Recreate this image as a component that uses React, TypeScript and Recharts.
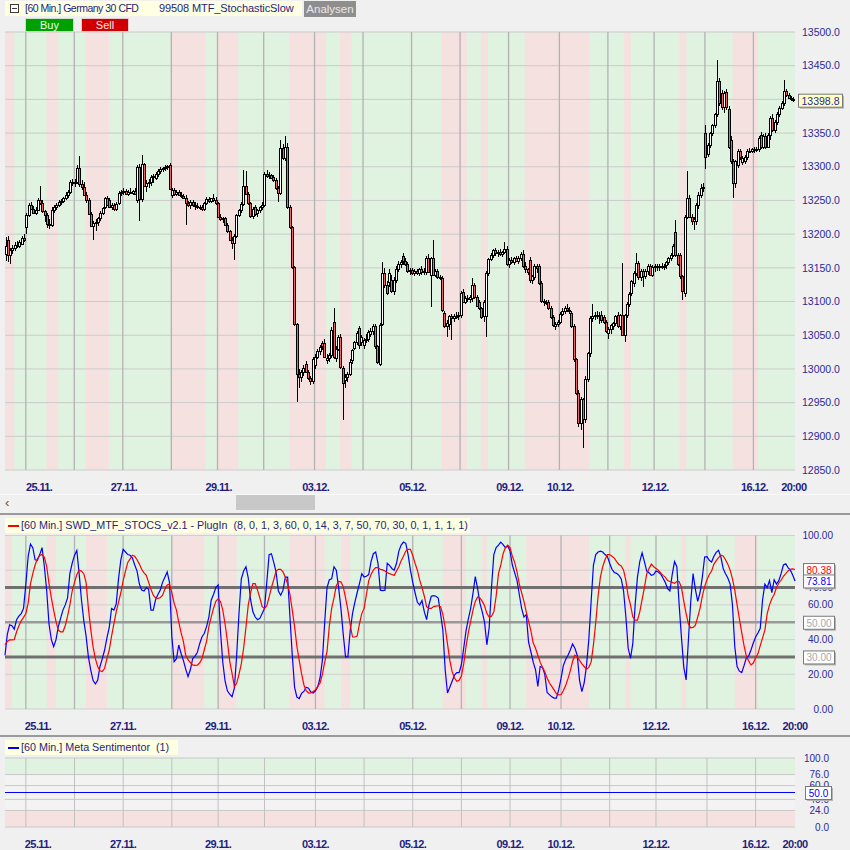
import React from "react";
import {
  ComposedChart,
  Bar,
  Line,
  XAxis,
  YAxis,
  ReferenceArea,
  ReferenceLine,
} from "recharts";

// open, high, low, close — one array per trading day (60 min candles)
type Candle = [number, number, number, number];

const d2411: Candle[] = [
  [13170, 13196, 13160, 13182], [13191, 13197, 13158, 13169], [13169, 13180, 13155, 13176],
  [13176, 13184, 13170, 13180], [13180, 13188, 13175, 13184], [13184, 13190, 13180, 13183],
  [13183, 13192, 13180, 13189], [13186, 13197, 13184, 13195], [13195, 13200, 13188, 13192],
];
const d2511: Candle[] = [
  [13210, 13231, 13200, 13229], [13229, 13246, 13226, 13243], [13243, 13248, 13236, 13238],
  [13238, 13242, 13230, 13232], [13232, 13240, 13228, 13236], [13236, 13253, 13234, 13251],
  [13251, 13272, 13244, 13246], [13246, 13250, 13232, 13234], [13234, 13236, 13218, 13229],
  [13229, 13232, 13209, 13215], [13215, 13222, 13208, 13213], [13213, 13240, 13210, 13236],
  [13236, 13244, 13232, 13240], [13240, 13246, 13236, 13243], [13243, 13250, 13240, 13247],
  [13247, 13252, 13243, 13249], [13249, 13255, 13246, 13253], [13253, 13262, 13250, 13258],
  [13258, 13266, 13254, 13263], [13263, 13280, 13260, 13278], [13278, 13282, 13272, 13276],
];
const d2611: Candle[] = [
  [13276, 13282, 13270, 13278], [13278, 13302, 13274, 13298], [13298, 13316, 13270, 13274],
  [13274, 13280, 13266, 13270], [13270, 13278, 13256, 13258], [13258, 13262, 13246, 13250],
  [13250, 13253, 13228, 13230], [13230, 13233, 13210, 13212], [13212, 13220, 13192, 13216],
  [13216, 13222, 13205, 13218], [13218, 13226, 13212, 13224], [13224, 13234, 13220, 13232],
  [13232, 13240, 13228, 13239], [13241, 13255, 13238, 13253], [13253, 13256, 13242, 13244],
  [13250, 13254, 13239, 13241], [13241, 13246, 13236, 13243], [13243, 13246, 13234, 13238],
  [13238, 13247, 13235, 13245], [13246, 13264, 13244, 13261], [13261, 13266, 13257, 13262],
];
const d2711: Candle[] = [
  [13262, 13268, 13258, 13264], [13264, 13267, 13258, 13260], [13260, 13266, 13257, 13263],
  [13263, 13268, 13259, 13261], [13261, 13266, 13258, 13264], [13264, 13268, 13258, 13260],
  [13250, 13302, 13246, 13300], [13300, 13304, 13219, 13252], [13252, 13318, 13248, 13304],
  [13304, 13306, 13270, 13272], [13272, 13280, 13262, 13276], [13276, 13282, 13268, 13278],
  [13278, 13288, 13272, 13285], [13285, 13290, 13276, 13287], [13283, 13292, 13280, 13289],
  [13289, 13296, 13285, 13294], [13294, 13300, 13290, 13297], [13297, 13300, 13292, 13298],
  [13298, 13302, 13294, 13299], [13299, 13303, 13295, 13301], [13302, 13306, 13265, 13267],
];
const d2811: Candle[] = [
  [13258, 13269, 13254, 13266], [13266, 13268, 13257, 13260], [13260, 13265, 13256, 13263],
  [13263, 13266, 13256, 13258], [13258, 13262, 13253, 13256], [13256, 13260, 13252, 13254],
  [13254, 13258, 13214, 13246], [13246, 13249, 13240, 13244], [13244, 13250, 13238, 13248],
  [13248, 13250, 13240, 13243], [13243, 13248, 13236, 13242], [13242, 13246, 13237, 13240],
  [13240, 13244, 13236, 13241], [13241, 13244, 13234, 13237], [13237, 13248, 13234, 13246],
  [13246, 13255, 13244, 13252], [13252, 13255, 13246, 13249], [13249, 13254, 13246, 13253],
  [13253, 13259, 13248, 13250], [13250, 13255, 13244, 13246],
];
const d2911: Candle[] = [
  [13246, 13248, 13224, 13226], [13226, 13230, 13219, 13222], [13222, 13226, 13216, 13224],
  [13224, 13226, 13212, 13214], [13214, 13216, 13202, 13204], [13204, 13206, 13190, 13192],
  [13192, 13196, 13178, 13187], [13187, 13200, 13162, 13197], [13197, 13230, 13194, 13228],
  [13228, 13238, 13226, 13236], [13236, 13247, 13232, 13245], [13245, 13295, 13242, 13271],
  [13271, 13293, 13258, 13260], [13260, 13262, 13244, 13246], [13246, 13248, 13224, 13227],
  [13227, 13240, 13222, 13237], [13240, 13243, 13227, 13230], [13232, 13238, 13226, 13236],
  [13236, 13242, 13232, 13240], [13240, 13247, 13236, 13243],
];
const d0212: Candle[] = [
  [13243, 13292, 13240, 13289], [13289, 13295, 13284, 13287], [13287, 13292, 13282, 13288],
  [13288, 13290, 13282, 13284], [13285, 13288, 13278, 13281], [13281, 13283, 13266, 13269],
  [13269, 13272, 13248, 13261], [13261, 13340, 13258, 13328], [13328, 13334, 13310, 13313],
  [13313, 13345, 13308, 13330], [13330, 13336, 13238, 13241], [13241, 13244, 13207, 13210],
  [13210, 13212, 13148, 13151], [13151, 13153, 13064, 13066], [13066, 13068, 12951, 12992],
  [12992, 13000, 12972, 12988], [12988, 12998, 12980, 12995], [12995, 13006, 12990, 13002],
  [13008, 13012, 12994, 12996], [12996, 12999, 12984, 12986], [12986, 12990, 12976, 12982],
  [12982, 13018, 12978, 13015],
];
const d0312: Candle[] = [
  [13006, 13022, 13000, 13018], [13018, 13030, 13014, 13027], [13027, 13036, 13020, 13033],
  [13038, 13042, 13028, 13034], [13038, 13044, 13016, 13018], [13013, 13022, 13008, 13016],
  [13016, 13024, 13010, 13020], [13020, 13062, 13016, 13058], [13070, 13090, 13015, 13018],
  [13016, 13034, 13010, 13030], [13030, 13050, 13026, 13048], [13048, 13052, 13000, 13003],
  [13001, 13004, 12924, 12979], [12983, 12992, 12972, 12988], [12988, 12996, 12980, 12993],
  [12993, 13014, 12990, 13011], [13013, 13030, 13008, 13028], [13031, 13042, 13028, 13040],
  [13040, 13056, 13036, 13053], [13060, 13064, 13030, 13035], [13040, 13050, 13034, 13048],
];
const d0412: Candle[] = [
  [13036, 13046, 13030, 13043], [13043, 13052, 13038, 13045], [13045, 13058, 13040, 13055],
  [13052, 13060, 13048, 13056], [13056, 13066, 13050, 13063], [13063, 13066, 13030, 13034],
  [13034, 13036, 13008, 13010], [13008, 13068, 13004, 13065], [13067, 13158, 13064, 13143],
  [13143, 13150, 13120, 13125], [13125, 13130, 13110, 13112], [13129, 13148, 13122, 13143],
  [13132, 13140, 13112, 13115], [13115, 13136, 13110, 13132], [13132, 13152, 13128, 13149],
  [13149, 13160, 13144, 13155], [13155, 13162, 13150, 13158], [13168, 13172, 13154, 13160],
  [13160, 13164, 13153, 13155], [13155, 13158, 13143, 13145], [13145, 13150, 13140, 13147],
];
const d0512: Candle[] = [
  [13147, 13150, 13140, 13143], [13143, 13148, 13138, 13145], [13145, 13149, 13140, 13142],
  [13142, 13150, 13138, 13148], [13148, 13152, 13140, 13144], [13144, 13150, 13139, 13146],
  [13144, 13168, 13140, 13164], [13164, 13170, 13142, 13144], [13140, 13166, 13092, 13164],
  [13164, 13192, 13138, 13140], [13140, 13148, 13136, 13145], [13145, 13148, 13134, 13137],
  [13137, 13140, 13132, 13135], [13135, 13138, 13085, 13087], [13083, 13086, 13060, 13063],
  [13063, 13072, 13048, 13068], [13066, 13080, 13058, 13078], [13078, 13082, 13043, 13075],
  [13075, 13082, 13070, 13079], [13079, 13084, 13074, 13078], [13078, 13084, 13072, 13080],
];
const d0612: Candle[] = [
  [13080, 13115, 13076, 13112], [13114, 13118, 13098, 13100], [13100, 13108, 13096, 13105],
  [13105, 13110, 13100, 13104], [13104, 13110, 13098, 13106], [13105, 13135, 13100, 13124],
  [13124, 13128, 13104, 13106], [13106, 13110, 13092, 13094], [13099, 13102, 13088, 13090],
  [13090, 13092, 13074, 13077], [13078, 13102, 13070, 13099], [13078, 13146, 13048, 13142],
  [13142, 13165, 13138, 13163], [13163, 13172, 13160, 13169], [13169, 13178, 13165, 13176],
  [13176, 13180, 13168, 13172], [13172, 13176, 13166, 13174], [13174, 13178, 13168, 13170],
  [13170, 13175, 13166, 13173], [13174, 13189, 13170, 13178], [13178, 13182, 13152, 13155],
];
const d0912: Candle[] = [
  [13155, 13164, 13150, 13162], [13162, 13166, 13156, 13158], [13158, 13166, 13154, 13164],
  [13164, 13168, 13158, 13160], [13160, 13168, 13156, 13164], [13164, 13174, 13160, 13171],
  [13171, 13176, 13150, 13153], [13153, 13158, 13142, 13148], [13148, 13150, 13140, 13144],
  [13162, 13166, 13128, 13132], [13132, 13140, 13126, 13138], [13137, 13155, 13132, 13152],
  [13152, 13156, 13142, 13150], [13153, 13156, 13125, 13127], [13127, 13130, 13098, 13101],
  [13101, 13104, 13094, 13099], [13099, 13102, 13095, 13100], [13099, 13102, 13088, 13091],
  [13091, 13094, 13074, 13077], [13077, 13080, 13062, 13065], [13064, 13070, 13058, 13066],
  [13066, 13072, 13062, 13069],
];
const d1012: Candle[] = [
  [13069, 13084, 13066, 13081], [13081, 13090, 13078, 13086], [13086, 13094, 13082, 13091],
  [13091, 13096, 13084, 13088], [13088, 13092, 13082, 13086], [13083, 13086, 13060, 13063],
  [13063, 13066, 13010, 13014], [13014, 13016, 12962, 12965], [12965, 12968, 12914, 12920],
  [12920, 12958, 12910, 12955], [12955, 12957, 12883, 12925], [12925, 12990, 12920, 12985],
  [12985, 13025, 12980, 13023], [13023, 13078, 13018, 13075], [13075, 13096, 13070, 13078],
  [13078, 13084, 13072, 13080], [13080, 13086, 13074, 13078], [13078, 13084, 13066, 13080],
  [13080, 13086, 13068, 13072], [13077, 13080, 13066, 13070], [13070, 13072, 13054, 13056],
];
const d1112: Candle[] = [
  [13053, 13062, 13044, 13059], [13059, 13066, 13052, 13065], [13063, 13070, 13058, 13068],
  [13068, 13080, 13064, 13078], [13080, 13084, 13060, 13063], [13063, 13082, 13058, 13080],
  [13080, 13157, 13051, 13051], [13051, 13082, 13040, 13080], [13080, 13099, 13076, 13096],
  [13096, 13114, 13092, 13111], [13112, 13132, 13108, 13130], [13127, 13145, 13122, 13142],
  [13142, 13172, 13138, 13157], [13157, 13160, 13132, 13136], [13136, 13148, 13130, 13145],
  [13145, 13148, 13122, 13138], [13138, 13148, 13134, 13145], [13145, 13156, 13140, 13153],
  [13153, 13156, 13138, 13140], [13140, 13154, 13136, 13151],
];
const d1212: Candle[] = [
  [13151, 13156, 13144, 13152], [13152, 13156, 13146, 13151], [13151, 13155, 13146, 13153],
  [13153, 13157, 13148, 13152], [13152, 13156, 13147, 13151], [13154, 13160, 13148, 13158],
  [13158, 13166, 13154, 13164], [13164, 13172, 13160, 13169], [13169, 13186, 13166, 13183],
  [13203, 13221, 13166, 13169], [13169, 13172, 13152, 13155], [13169, 13172, 13134, 13138],
  [13138, 13140, 13102, 13115], [13112, 13228, 13106, 13226], [13226, 13293, 13222, 13254],
  [13254, 13258, 13224, 13226], [13226, 13230, 13214, 13219], [13219, 13226, 13206, 13222],
  [13220, 13246, 13214, 13243], [13243, 13262, 13238, 13258], [13258, 13274, 13254, 13268],
  [13268, 13276, 13262, 13270],
];
const d1312: Candle[] = [
  [13350, 13362, 13297, 13315], [13319, 13336, 13314, 13332], [13332, 13352, 13328, 13350],
  [13350, 13364, 13346, 13362], [13362, 13380, 13358, 13378], [13378, 13459, 13374, 13427],
  [13427, 13432, 13390, 13394], [13409, 13414, 13384, 13388], [13388, 13412, 13380, 13409],
  [13411, 13416, 13384, 13388], [13386, 13390, 13326, 13330], [13340, 13345, 13304, 13308],
  [13308, 13312, 13253, 13276], [13276, 13310, 13268, 13308], [13303, 13326, 13298, 13323],
  [13323, 13326, 13310, 13314], [13307, 13316, 13302, 13313], [13308, 13318, 13304, 13314],
  [13314, 13326, 13310, 13324], [13324, 13328, 13320, 13324], [13324, 13328, 13320, 13326],
];
const d1612: Candle[] = [
  [13326, 13330, 13320, 13325], [13325, 13330, 13322, 13327], [13327, 13345, 13322, 13343],
  [13347, 13352, 13326, 13330], [13330, 13348, 13326, 13345], [13345, 13350, 13326, 13330],
  [13330, 13350, 13328, 13347], [13347, 13376, 13340, 13373], [13373, 13378, 13352, 13355],
  [13355, 13370, 13350, 13367], [13367, 13382, 13362, 13378], [13378, 13390, 13374, 13387],
  [13387, 13398, 13384, 13394], [13394, 13429, 13390, 13412], [13413, 13416, 13404, 13406],
  [13407, 13410, 13400, 13402], [13402, 13405, 13397, 13400], [13400, 13404, 13396, 13398.8],
];

const dayLabels = [
  "24.11.", "25.11.", "26.11.", "27.11.", "28.11.", "29.11.", "02.12.", "03.12.", "04.12.",
  "05.12.", "06.12.", "09.12.", "10.12.", "11.12.", "12.12.", "13.12.", "16.12.",
];
const dayCandles = [
  d2411, d2511, d2611, d2711, d2811, d2911, d0212, d0312, d0412,
  d0512, d0612, d0912, d1012, d1112, d1212, d1312, d1612,
];
const shownDays = ["25.11.", "27.11.", "29.11.", "03.12.", "05.12.", "09.12.", "10.12.", "12.12.", "16.12."];
const lastTimeLabel = "20:00";

// stochastic slow, %K (blue) and %D (red), one value per candle
const stochK = [
  31, 43, 48.5, 48, 46, 51.5, 53.5, 55, 58, 72,
  88, 95, 93, 86, 85.7, 89, 93, 82, 68, 49,
  40, 36, 39.8, 47.4, 52.2, 57, 60, 64, 78, 84,
  88.5, 91.4, 78, 63, 51, 42, 30, 22.6, 16.5, 14.5,
  16.5, 24.5, 29, 34, 41, 47, 57.9, 57, 60.5, 75,
  86, 92, 90.5, 89, 88.6, 87, 83, 79.5, 72, 68.5,
  68, 70, 69, 57, 57, 63, 66, 68.5, 73, 76,
  79, 73, 42, 27.3, 29, 36.9, 32, 28, 23, 18.7,
  22.6, 29, 30.5, 32.5, 37.5, 41.5, 43.5, 47.5, 53, 62.7,
  66, 70, 71.5, 45, 27, 16, 10.5, 8.5, 7, 12,
  31, 55, 75, 79.5, 82, 75.5, 63, 56, 53, 51.5,
  52.2, 55, 57.9, 73, 89, 89.5, 84.5, 79, 68, 65.6,
  68.5, 76, 76, 53, 31, 12.5, 6.8, 6, 9, 10.1,
  12.5, 12, 9.8, 9.2, 10.5, 12.8, 18, 28, 50, 70,
  74.5, 75, 82, 80, 70, 58, 43, 30, 30, 45,
  55, 61.5, 67, 72.3, 78, 76.1, 76.5, 77.5, 85, 89.5,
  90.5, 84, 68.5, 68.2, 68.5, 84, 82.8, 81, 80, 84,
  91, 94.5, 96.2, 95.5, 89, 80, 73, 67, 61.5, 60,
  62.5, 56, 51.5, 60, 65, 65.3, 65, 64, 55, 45.5,
  22.6, 9.2, 12.5, 16, 19.5, 21, 21, 25.5, 35, 45,
  52, 58, 66.6, 76.3, 69.4, 61, 56, 50, 37, 47,
  70, 89, 93, 94.5, 96.2, 94.8, 93, 94, 91, 83,
  78.5, 74, 66, 58, 53, 54.5, 38.5, 33, 27, 22.6,
  13, 24.5, 24, 20, 9.5, 8.3, 7, 6.3, 6.3, 11,
  17.5, 25, 28.5, 31, 34, 37.5, 35, 31, 16.5, 10,
  15, 25, 40, 62, 83, 89, 90.5, 91, 90.5, 89,
  88, 84, 80.5, 78.7, 78.2, 77, 75, 68, 53, 35,
  29.2, 38, 60, 76, 85, 90, 85, 79.5, 78.5, 77,
  77.5, 79.5, 79, 77.8, 75.5, 73, 69.4, 68, 77.5, 85,
  82, 60, 41, 24, 16.8, 40, 62, 78, 69, 62,
  67, 76, 87.6, 87.8, 85.7, 84.7, 88, 90.3, 91.5, 87.6,
  81, 78, 75.5, 72, 60, 36, 24.5, 21.8, 21, 25,
  29.5, 30.5, 34, 38, 41.5, 43.8, 46.5, 63, 72, 70,
  74, 67, 74.5, 72, 74, 78, 83, 83.7, 81.5, 80,
  77.2, 73.81,
];
const stochD = [
  37, 39, 39.8, 39.8, 40, 44.5, 48, 50.8, 52.8, 55,
  61, 72.3, 78, 83, 86.6, 88.5, 89, 87.4, 82, 72.3,
  64, 57, 50.5, 45.5, 44.5, 44.5, 48, 53.5, 60, 68,
  73, 77.5, 80, 79.5, 78, 73, 58, 46, 36, 29,
  24.5, 22, 21.6, 23.5, 29, 34, 42, 49, 56, 61.5,
  67, 74, 79.5, 84.5, 86.5, 88.6, 88, 86, 83.5, 80.5,
  78.5, 77, 73, 69, 65.6, 64, 63.7, 64.2, 65.6, 69,
  71.5, 72, 67, 61, 57, 50, 44, 39, 31, 28.5,
  26.8, 25.4, 25.1, 25.3, 26.5, 29, 34, 39, 47.5, 53,
  58, 62, 63.5, 62, 57, 49, 39, 27.5, 20.5, 13,
  14.8, 20, 26, 35, 47, 60, 67, 72.3, 72.3, 68.5,
  64, 59, 58, 59.5, 64.5, 70, 74.5, 79.5, 80.5, 80.5,
  79, 76, 72, 66, 57, 47.5, 36, 28, 20.5, 14,
  10.5, 9.2, 9.3, 10.1, 11, 13, 15, 20, 27, 33,
  48, 58, 64, 71, 73.5, 73.3, 70.4, 64, 57, 48.5,
  41.5, 41.5, 42, 49, 55, 58, 66, 74, 77.5, 80,
  81.5, 81.5, 80.5, 80.2, 79.5, 78.5, 78, 77.5, 77, 79.5,
  82, 85.5, 88, 91, 92, 92, 88.5, 84, 80, 74.3,
  70, 65, 59, 58, 58, 59, 59.3, 59.5, 59, 54.5,
  47, 37.5, 28, 21.5, 18, 16, 16.5, 19, 26, 36,
  44, 50.5, 57, 62, 64.5, 64, 62, 59.5, 55, 53,
  53.5, 56, 65, 78, 83, 89.5, 93, 94.5, 93, 88,
  84.5, 79, 72, 67, 62, 56, 50.5, 45, 38, 35,
  31, 27, 24, 21.5, 17.8, 15, 13, 11, 8.8, 8.2,
  8.2, 10.5, 13.5, 17.5, 22, 27.5, 31, 30.2, 28, 26,
  24.5, 23, 24, 27, 37, 50, 65, 76, 82, 86,
  89, 89, 88, 87, 85, 83.3, 82.5, 80, 74, 65,
  60, 53, 51.2, 51.2, 56, 63, 70, 78, 81, 83.5,
  82, 81, 80, 78.4, 77, 76, 74, 73.5, 73, 72.5,
  73.5, 73.5, 70, 62, 55, 49, 46.8, 47, 48.3, 53,
  58, 65, 70.5, 74.5, 77.5, 79.5, 83.5, 85.5, 87.2, 88.6,
  88.2, 86, 83.5, 80, 75, 68.5, 60, 52, 44, 36.5,
  30.5, 27.7, 25.4, 26.5, 29.5, 31.8, 36.5, 41, 45.5, 55,
  60, 63.5, 66, 70, 72.5, 74.2, 76.5, 78, 79.6, 80.5,
  80.8, 80.38,
];

// sell signal zones (first and last candle); everything else is a buy zone
const sellZoneStart = [0, 18, 35, 72, 92, 123, 145, 189, 206, 225, 268, 292, 315];
const sellZoneEnd = [3, 22, 44, 86, 100, 138, 149, 199, 208, 252, 270, 294, 325];

const priceTicks = [
  12850, 12900, 12950, 13000, 13050, 13100, 13150, 13200, 13250, 13300, 13350, 13400, 13450, 13500,
];
const stochLabelTicks = [0, 20, 40, 60, 70, 100];
const stochGrid = [0, 20, 40, 60, 80, 100];
const stochUpper = 70;
const stochMiddle = 50;
const stochLower = 30;

const sentimentValue = 50;
const sentimentBuyZone = [76, 100];
const sentimentSellZone = [0, 24];
const sentimentTicks = [0, 24, 40, 60, 76, 100];

const candles = dayCandles.flat();
const rows = candles.map((c, i) => ({
  i,
  o: c[0],
  h: c[1],
  l: c[2],
  c: c[3],
  range: [c[2], c[1]],
  k: stochK[i],
  d: stochD[i],
  s: sentimentValue,
}));

const dayStarts: number[] = [];
{
  let acc = 0;
  dayCandles.forEach((d) => {
    dayStarts.push(acc);
    acc += d.length;
  });
}
const boundaries = dayStarts.slice(1);
const tickText: Record<number, string> = {};
dayLabels.forEach((lab, n) => {
  if (shownDays.includes(lab)) tickText[dayStarts[n]] = lab;
});
tickText[rows.length - 1] = lastTimeLabel;
const tickIdx = Object.keys(tickText).map(Number).sort((a, b) => a - b);

const FONT = "'Liberation Sans', Arial, sans-serif";
const BUY_BG = "#e0f2e0";
const SELL_BG = "#f6e1e1";
const AXIS_BLUE = "#2a2a98";
const TITLE_BLUE = "#1e1e80";

function CandleShape(props: any) {
  const { x, y, width, height, payload } = props;
  if (!payload || x == null || y == null) return null;
  const { o, h, l, c } = payload;
  const top = Math.min(y, y + height);
  const span = Math.abs(height);
  const toY = (p: number) => (h === l ? top : top + ((h - p) / (h - l)) * span);
  const col = Math.round(x + width / 2 - 0.5);
  const bTop = Math.round(toY(Math.max(o, c)));
  const bBot = Math.round(toY(Math.min(o, c)));
  return (
    <g>
      <line
        x1={col + 0.5}
        x2={col + 0.5}
        y1={Math.round(toY(h))}
        y2={Math.round(toY(l))}
        stroke="#000"
        strokeWidth={1}
      />
      <rect
        x={col - 0.5}
        y={bTop + 0.5}
        width={2}
        height={Math.max(1, bBot - bTop)}
        fill={c < o ? "#f06464" : "#ffffff"}
        stroke="#000"
        strokeWidth={1}
      />
    </g>
  );
}

function DateTick(props: any) {
  const { x, y, payload } = props;
  const v = payload.value;
  const first = v === tickIdx[0];
  return (
    <text
      x={first ? x - 1 : x}
      y={y}
      dy={21}
      textAnchor={first ? "start" : "middle"}
      fontFamily={FONT}
      fontWeight="bold"
      fontSize={11}
      letterSpacing={-0.6}
      fill={TITLE_BLUE}
    >
      {tickText[v]}
    </text>
  );
}

function PriceTick(props: any) {
  const { x, y, payload } = props;
  return (
    <text x={x + 7} y={y} dy="0.35em" textAnchor="start" fontFamily={FONT} fontSize={10.5} fill={AXIS_BLUE}>
      {Number(payload.value).toFixed(1)}
    </text>
  );
}

function makeRightTick(dx: number, digits: number, size: number) {
  return function RightTick(props: any) {
    const { x, y, payload } = props;
    return (
      <text x={x + dx} y={y} dy="0.35em" textAnchor="end" fontFamily={FONT} fontSize={size} fill={AXIS_BLUE}>
        {Number(payload.value).toFixed(digits)}
      </text>
    );
  };
}
const StochTick = makeRightTick(38, 2, 10);
const SentTick = makeRightTick(34, 1, 10);

function ValueBox(props: any) {
  const { viewBox, text, color, bg, w, dx, size } = props;
  if (!viewBox) return null;
  const x = viewBox.x + viewBox.width + dx;
  const y = viewBox.y;
  const hgt = 13;
  return (
    <g>
      <rect x={x + 2} y={y - hgt / 2 + 2} width={w} height={hgt} fill="#b4b4b4" />
      <rect x={x + 0.5} y={y - hgt / 2 + 0.5} width={w} height={hgt} fill={bg} stroke="#7a7a7a" />
      <text x={x + w / 2 + 0.5} y={y + 1} dy="0.35em" textAnchor="middle" fontFamily={FONT} fontSize={size} fill={color}>
        {text}
      </text>
    </g>
  );
}

function PanelHeader({ top, width, text, dash }: { top: number; width: number; text: string; dash: string }) {
  return (
    <div style={{ position: "absolute", left: 5, top, width, height: 15, background: "#ffffe1" }}>
      <div style={{ position: "absolute", left: 3, top: 7, width: 11, height: 2, background: dash }} />
      <div
        style={{
          position: "absolute",
          left: 16,
          top: 1,
          fontFamily: FONT,
          fontSize: 10.75,
          color: TITLE_BLUE,
          whiteSpace: "pre",
        }}
      >
        {text}
      </div>
    </div>
  );
}

export default function App() {
  const last = rows[rows.length - 1];
  const xAxisCommon = {
    dataKey: "i",
    type: "category" as const,
    ticks: tickIdx,
    interval: 0 as const,
    tick: <DateTick />,
    tickLine: false,
    axisLine: false,
    tickSize: 0,
    tickMargin: 0,
    height: 20,
  };

  return (
    <div style={{ position: "fixed", left: 0, top: 0, width: 850, height: 850, background: "#f0f0f0", overflow: "hidden" }}>
      {/* price chart */}
      <div style={{ position: "absolute", left: 0, top: 0 }}>
        <ComposedChart
          width={850}
          height={500}
          data={rows}
          margin={{ top: 32, right: 0, bottom: 10, left: 5 }}
          barCategoryGap={0}
          barGap={0}
        >
          <XAxis {...xAxisCommon} />
          <YAxis
            orientation="right"
            domain={[12850, 13500]}
            ticks={priceTicks}
            type="number"
            width={55}
            tick={<PriceTick />}
            tickLine={false}
            axisLine={false}
            tickSize={0}
            tickMargin={0}
            interval={0}
            allowDataOverflow
          />
          <ReferenceArea y1={12850} y2={13500} fill={BUY_BG} fillOpacity={1} stroke="none" zIndex={-95} />
          {sellZoneStart.map((s, n) => (
            <ReferenceArea key={`s${n}`} x1={s} x2={sellZoneEnd[n]} fill={SELL_BG} fillOpacity={1} stroke="none" zIndex={-90} />
          ))}
          {priceTicks.map((v) => (
            <ReferenceLine key={`h${v}`} y={v} stroke="#cbcbcb" strokeWidth={1} zIndex={-80} />
          ))}
          {boundaries.map((b) => (
            <ReferenceLine key={`v${b}`} x={b} position="start" stroke="#b2b2b2" strokeWidth={1.3} zIndex={-70} />
          ))}
          <Bar dataKey="range" shape={<CandleShape />} isAnimationActive={false} />
          <ReferenceLine
            y={last.c}
            stroke="none"
            zIndex={2000}
            label={<ValueBox text={last.c.toFixed(1)} color={AXIS_BLUE} bg="#ffffc4" w={44} dx={3} size={10.5} />}
          />
        </ComposedChart>
      </div>

      {/* stochastic panel */}
      <div style={{ position: "absolute", left: 0, top: 500 }}>
        <ComposedChart
          width={850}
          height={240}
          data={rows}
          margin={{ top: 35.5, right: 0, bottom: 11, left: 5 }}
        >
          <XAxis {...xAxisCommon} />
          <YAxis
            orientation="right"
            domain={[0, 100]}
            ticks={stochLabelTicks}
            type="number"
            width={55}
            tick={<StochTick />}
            tickLine={false}
            axisLine={false}
            tickSize={0}
            tickMargin={0}
            interval={0}
          />
          <ReferenceArea y1={0} y2={100} fill={BUY_BG} fillOpacity={1} stroke="none" zIndex={-95} />
          {sellZoneStart.map((s, n) => (
            <ReferenceArea key={`s${n}`} x1={s} x2={sellZoneEnd[n]} fill={SELL_BG} fillOpacity={1} stroke="none" zIndex={-90} />
          ))}
          {stochGrid.map((v) => (
            <ReferenceLine key={`h${v}`} y={v} stroke="#d0d0d0" strokeWidth={1} zIndex={-80} />
          ))}
          {boundaries.map((b) => (
            <ReferenceLine key={`v${b}`} x={b} position="start" stroke="#b2b2b2" strokeWidth={1.3} zIndex={-70} />
          ))}
          <ReferenceLine y={stochUpper} stroke="#707070" strokeWidth={3} zIndex={-60} />
          <ReferenceLine
            y={stochMiddle}
            stroke="#999999"
            strokeWidth={2.5}
            zIndex={-60}
            label={<ValueBox text={stochMiddle.toFixed(2)} color="#a8a8a8" bg="#ffffff" w={31} dx={8} size={10} />}
          />
          <ReferenceLine
            y={stochLower}
            stroke="#707070"
            strokeWidth={3}
            zIndex={-60}
            label={<ValueBox text={stochLower.toFixed(2)} color="#a8a8a8" bg="#ffffff" w={31} dx={8} size={10} />}
          />
          <Line dataKey="k" type="linear" stroke="#0000ff" strokeWidth={1.2} dot={false} isAnimationActive={false} />
          <Line dataKey="d" type="linear" stroke="#ff0000" strokeWidth={1.2} dot={false} isAnimationActive={false} />
          <ReferenceLine
            y={last.d}
            stroke="none"
            zIndex={2000}
            label={<ValueBox text={last.d.toFixed(2)} color="#ff0000" bg="#ffffff" w={31} dx={8} size={10} />}
          />
          <ReferenceLine
            y={last.k}
            stroke="none"
            zIndex={2000}
            label={<ValueBox text={last.k.toFixed(2)} color="#0000ff" bg="#ffffff" w={31} dx={8} size={10} />}
          />
        </ComposedChart>
      </div>

      {/* meta sentimentor panel */}
      <div style={{ position: "absolute", left: 0, top: 735 }}>
        <ComposedChart
          width={850}
          height={115}
          data={rows}
          margin={{ top: 23, right: 0, bottom: 3, left: 5 }}
        >
          <XAxis {...xAxisCommon} />
          <YAxis
            orientation="right"
            domain={[0, 100]}
            ticks={sentimentTicks}
            type="number"
            width={55}
            tick={<SentTick />}
            tickLine={false}
            axisLine={false}
            tickSize={0}
            tickMargin={0}
            interval={0}
          />
          <ReferenceArea y1={0} y2={100} fill="#f3f3f3" fillOpacity={1} stroke="none" zIndex={-95} />
          <ReferenceArea y1={sentimentBuyZone[0]} y2={sentimentBuyZone[1]} fill={BUY_BG} fillOpacity={1} stroke="none" zIndex={-90} />
          <ReferenceArea y1={sentimentSellZone[0]} y2={sentimentSellZone[1]} fill={SELL_BG} fillOpacity={1} stroke="none" zIndex={-90} />
          {sentimentTicks.map((v) => (
            <ReferenceLine key={`h${v}`} y={v} stroke="#c8c8c8" strokeWidth={1} zIndex={-80} />
          ))}
          {boundaries.map((b) => (
            <ReferenceLine key={`v${b}`} x={b} position="start" stroke="#c0c0c0" strokeWidth={1} zIndex={-70} />
          ))}
          <Line dataKey="s" type="linear" stroke="#0000ff" strokeWidth={1.2} dot={false} isAnimationActive={false} />
          <ReferenceLine
            y={sentimentValue}
            stroke="none"
            zIndex={2000}
            label={<ValueBox text={sentimentValue.toFixed(1)} color="#0000ff" bg="#ffffff" w={26} dx={10} size={10} />}
          />
        </ComposedChart>
      </div>

      {/* top header */}
      <div style={{ position: "absolute", left: 5, top: 1, width: 297, height: 15, background: "#ffffe1" }}>
        <div
          style={{
            position: "absolute",
            left: 5,
            top: 3,
            width: 7,
            height: 7,
            border: "1px solid #3c3c3c",
            background: "#ffffff",
          }}
        >
          <div style={{ position: "absolute", left: 1, top: 3, width: 5, height: 1, background: "#3c3c3c" }} />
        </div>
        <div
          style={{
            position: "absolute",
            left: 20,
            top: 1,
            fontFamily: FONT,
            fontSize: 10.5,
            letterSpacing: -0.5,
            color: TITLE_BLUE,
            whiteSpace: "pre",
          }}
        >
          [60 Min.] Germany 30 CFD
        </div>
        <div
          style={{
            position: "absolute",
            left: 154,
            top: 1,
            fontFamily: FONT,
            fontSize: 11,
            letterSpacing: -0.1,
            color: TITLE_BLUE,
            whiteSpace: "pre",
          }}
        >
          99508 MTF_StochasticSlow
        </div>
      </div>
      <div
        style={{
          position: "absolute",
          left: 304,
          top: 1,
          width: 52,
          height: 16,
          background: "#8e8e8e",
          color: "#e8e8e8",
          fontFamily: FONT,
          fontSize: 11.5,
          lineHeight: "16px",
          textAlign: "center",
        }}
      >
        Analysen
      </div>
      <div
        style={{
          position: "absolute",
          left: 25,
          top: 18,
          width: 49,
          height: 14,
          background: "#00a000",
          boxShadow: "inset 0 0 0 1px #c8e0c8",
          color: "#e8ffe8",
          fontFamily: FONT,
          fontSize: 11,
          lineHeight: "14px",
          textAlign: "center",
        }}
      >
        Buy
      </div>
      <div
        style={{
          position: "absolute",
          left: 81,
          top: 18,
          width: 48,
          height: 14,
          background: "#d00000",
          boxShadow: "inset 0 0 0 1px #e8c8c8",
          color: "#ffe8e8",
          fontFamily: FONT,
          fontSize: 11,
          lineHeight: "14px",
          textAlign: "center",
        }}
      >
        Sell
      </div>

      {/* scrollbar strip */}
      <div style={{ position: "absolute", left: 0, top: 494, width: 850, height: 1, background: "#fafafa" }} />
      <div style={{ position: "absolute", left: 5, top: 495, fontFamily: FONT, fontSize: 13, color: "#555" }}>‹</div>
      <div style={{ position: "absolute", left: 236, top: 495, width: 79, height: 15, background: "#c8c8c8" }} />
      <div style={{ position: "absolute", left: 0, top: 513, width: 850, height: 2, background: "#9a9a9a" }} />
      <div style={{ position: "absolute", left: 0, top: 735, width: 850, height: 2, background: "#9a9a9a" }} />

      <PanelHeader
        top={518}
        width={465}
        dash="#ff0000"
        text="[60 Min.] SWD_MTF_STOCS_v2.1 - PlugIn  (8, 0, 1, 3, 60, 0, 14, 3, 7, 50, 70, 30, 0, 1, 1, 1, 1)"
      />
      <PanelHeader top={740} width={173} dash="#0000ff" text="[60 Min.] Meta Sentimentor  (1)" />
    </div>
  );
}
